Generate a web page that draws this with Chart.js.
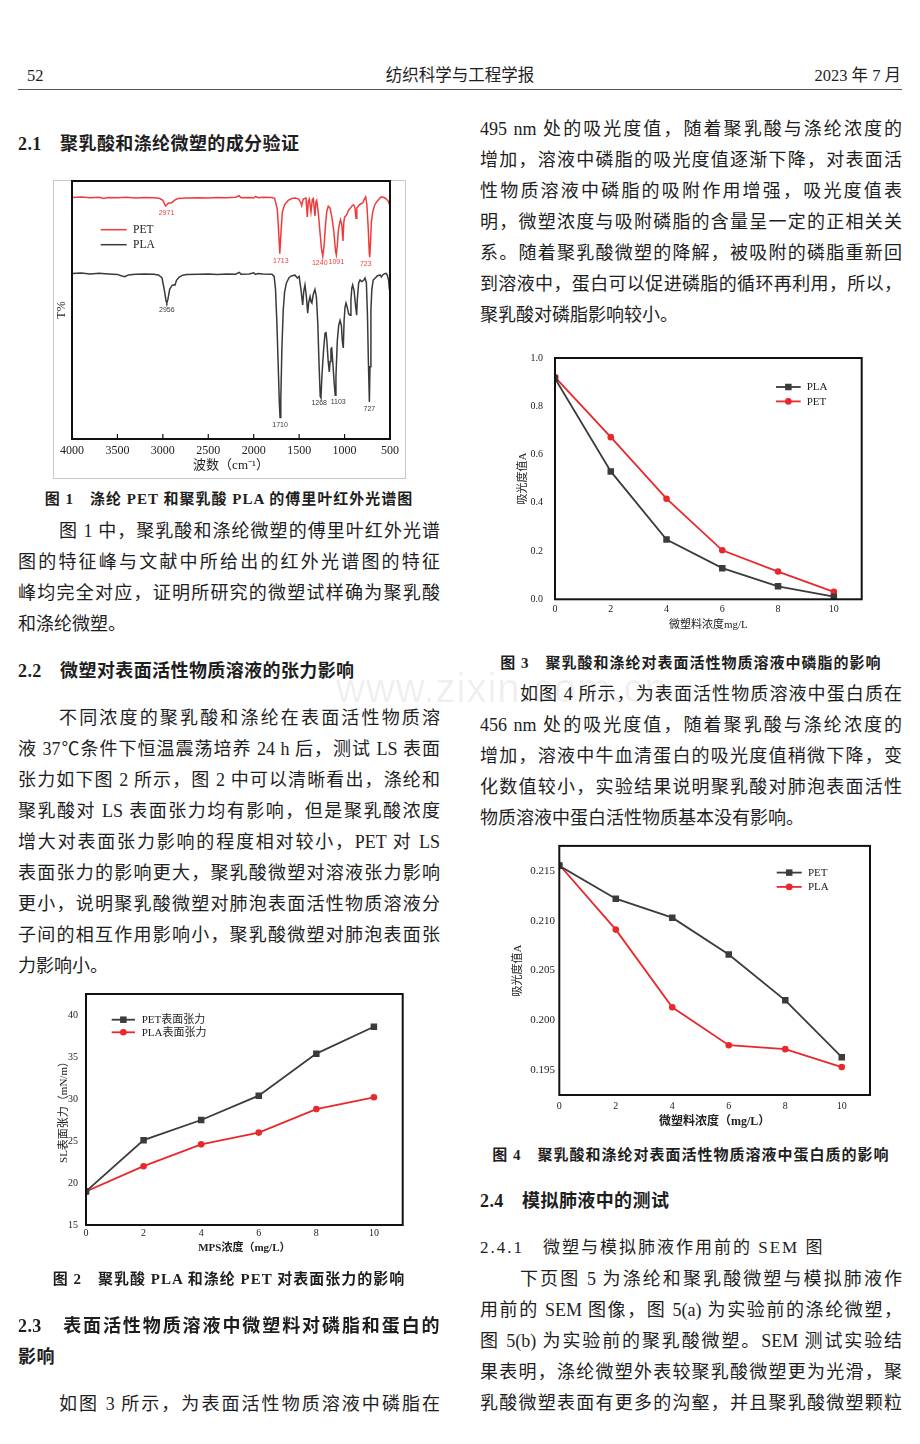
<!DOCTYPE html>
<html lang="zh-CN">
<head>
<meta charset="utf-8">
<title>纺织科学与工程学报 52</title>
<script src="https://cdn.jsdelivr.net/npm/chart.js@4.4.1/dist/chart.umd.min.js"></script>
<style>
body{margin:0;background:#fff;}
#page{position:relative;width:920px;height:1444px;overflow:hidden;font-family:"Liberation Serif","Noto Sans CJK SC",serif;color:#1e1e1e;}
.t{position:absolute;height:24px;line-height:24px;font-size:18px;}
.j{text-align:justify;text-align-last:justify;}
.L{left:18px;width:422px;}
.Li{left:59px;width:381px;}
.R{left:480px;width:422px;}
.Ri{left:520px;width:382px;}
.h{font-weight:bold;font-size:18px;letter-spacing:0.4px;}
.cap{font-weight:bold;font-size:15px;text-align:center;letter-spacing:1px;}
.fig{position:absolute;}
.head{position:absolute;top:64px;height:24px;line-height:24px;font-size:16.5px;}
#wm{position:absolute;left:336px;top:666px;font:40px "Liberation Sans",sans-serif;color:rgba(0,0,0,0.07);letter-spacing:1px;}
</style>
</head>
<body>
<div id="page">
  <div class="head" style="left:27px">52</div>
  <div class="head" style="left:0;width:920px;text-align:center">纺织科学与工程学报</div>
  <div class="head" style="right:19px">2023 年 7 月</div>
  <div style="position:absolute;left:18px;top:89px;width:884px;height:0;border-top:1.5px solid #555"></div>

  <div id="wm">www.zixin.com.cn</div>

  <!-- left column -->
  <div class="t h" style="left:18px;top:132px">2.1　聚乳酸和涤纶微塑的成分验证</div>

  <div class="fig" style="left:53px;top:180px;width:351px;height:297px;border:1px solid #c8c8c8"></div>
  <div class="fig" style="left:53px;top:180px;width:352px;height:298px"><canvas id="ftir"></canvas></div>

  <div class="t cap L" style="top:487px">图 1　涤纶 PET 和聚乳酸 PLA 的傅里叶红外光谱图</div>
  <div class="t j Li" style="top:519px">图 1 中，聚乳酸和涤纶微塑的傅里叶红外光谱</div>
  <div class="t j L" style="top:550px">图的特征峰与文献中所给出的红外光谱图的特征</div>
  <div class="t j L" style="top:581px">峰均完全对应，证明所研究的微塑试样确为聚乳酸</div>
  <div class="t L" style="top:612px">和涤纶微塑。</div>

  <div class="t h" style="left:18px;top:659px">2.2　微塑对表面活性物质溶液的张力影响</div>
  <div class="t j Li" style="top:706px">不同浓度的聚乳酸和涤纶在表面活性物质溶</div>
  <div class="t j L" style="top:737px">液 37℃条件下恒温震荡培养 24 h 后，测试 LS 表面</div>
  <div class="t j L" style="top:768px">张力如下图 2 所示，图 2 中可以清晰看出，涤纶和</div>
  <div class="t j L" style="top:799px">聚乳酸对 LS 表面张力均有影响，但是聚乳酸浓度</div>
  <div class="t j L" style="top:830px">增大对表面张力影响的程度相对较小，PET 对 LS</div>
  <div class="t j L" style="top:861px">表面张力的影响更大，聚乳酸微塑对溶液张力影响</div>
  <div class="t j L" style="top:892px">更小，说明聚乳酸微塑对肺泡表面活性物质溶液分</div>
  <div class="t j L" style="top:923px">子间的相互作用影响小，聚乳酸微塑对肺泡表面张</div>
  <div class="t L" style="top:954px">力影响小。</div>

  <div class="fig" style="left:40px;top:980px;width:380px;height:290px"><canvas id="tension"></canvas></div>

  <div class="t cap L" style="top:1267px">图 2　聚乳酸 PLA 和涤纶 PET 对表面张力的影响</div>
  <div class="t h j L" style="top:1314px">2.3　表面活性物质溶液中微塑料对磷脂和蛋白的</div>
  <div class="t h" style="left:18px;top:1345px">影响</div>
  <div class="t j Li" style="top:1392px">如图 3 所示，为表面活性物质溶液中磷脂在</div>

  <!-- right column -->
  <div class="t j R" style="top:117px">495 nm 处的吸光度值，随着聚乳酸与涤纶浓度的</div>
  <div class="t j R" style="top:148px">增加，溶液中磷脂的吸光度值逐渐下降，对表面活</div>
  <div class="t j R" style="top:179px">性物质溶液中磷脂的吸附作用增强，吸光度值表</div>
  <div class="t j R" style="top:210px">明，微塑浓度与吸附磷脂的含量呈一定的正相关关</div>
  <div class="t j R" style="top:241px">系。随着聚乳酸微塑的降解，被吸附的磷脂重新回</div>
  <div class="t j R" style="top:272px">到溶液中，蛋白可以促进磷脂的循环再利用，所以，</div>
  <div class="t R" style="top:303px">聚乳酸对磷脂影响较小。</div>

  <div class="fig" style="left:480px;top:340px;width:420px;height:300px"><canvas id="phospho"></canvas></div>

  <div class="t cap R" style="top:651px">图 3　聚乳酸和涤纶对表面活性物质溶液中磷脂的影响</div>
  <div class="t j Ri" style="top:682px">如图 4 所示，为表面活性物质溶液中蛋白质在</div>
  <div class="t j R" style="top:713px">456 nm 处的吸光度值，随着聚乳酸与涤纶浓度的</div>
  <div class="t j R" style="top:744px">增加，溶液中牛血清蛋白的吸光度值稍微下降，变</div>
  <div class="t j R" style="top:775px">化数值较小，实验结果说明聚乳酸对肺泡表面活性</div>
  <div class="t R" style="top:806px">物质溶液中蛋白活性物质基本没有影响。</div>

  <div class="fig" style="left:480px;top:835px;width:420px;height:300px"><canvas id="protein"></canvas></div>

  <div class="t cap R" style="top:1143px">图 4　聚乳酸和涤纶对表面活性物质溶液中蛋白质的影响</div>
  <div class="t h" style="left:480px;top:1189px">2.4　模拟肺液中的测试</div>
  <div class="t" style="left:480px;top:1236px;font-size:17px;letter-spacing:2px">2.4.1　微塑与模拟肺液作用前的 SEM 图</div>
  <div class="t j Ri" style="top:1267px">下页图 5 为涤纶和聚乳酸微塑与模拟肺液作</div>
  <div class="t j R" style="top:1298px">用前的 SEM 图像，图 5(a) 为实验前的涤纶微塑，</div>
  <div class="t j R" style="top:1329px">图 5(b) 为实验前的聚乳酸微塑。SEM 测试实验结</div>
  <div class="t j R" style="top:1360px">果表明，涤纶微塑外表较聚乳酸微塑更为光滑，聚</div>
  <div class="t j R" style="top:1391px">乳酸微塑表面有更多的沟壑，并且聚乳酸微塑颗粒</div>
</div>

<script>
// ---- Fig 1: FTIR spectra (wavenumber, transmittance in arbitrary units) ----
const petWave = [4000,3900,3800,3700,3650,3600,3500,3400,3300,3200,3100,3040,3000,2971,2940,2903,2870,2830,2750,2600,2500,2400,2300,2200,2160,2140,2050,2000,1980,1950,1900,1800,1770,1740,1725,1713,1700,1685,1660,1620,1580,1540,1505,1480,1472,1455,1425,1410,1400,1388,1370,1355,1344,1326,1315,1307,1290,1270,1255,1240,1225,1210,1195,1179,1160,1140,1120,1100,1091,1080,1068,1058,1045,1030,1018,1008,1000,985,970,955,935,915,900,885,874,865,850,830,800,785,768,755,740,728,723,716,705,690,670,650,620,600,570,545,520,505,500];
const petT    = [93.6,93.8,93.5,93.7,93.2,93.6,93.5,93.7,93.4,93.6,93.5,93.3,92.5,90.3,91.4,91.6,92.6,93.2,93.4,93.5,93.4,93.6,93.5,93.7,94.3,93.5,93.6,93.4,94.0,93.5,93.7,93.6,93.3,89,80,71.8,80,88,90.8,92.5,93.2,93.4,93.0,91.5,90.5,93.0,93.4,86.1,92.0,93.0,88,92.8,93.2,86.5,92.0,92.5,88,80,74,70.8,75,83,88.5,90.2,89.5,86,81,73,71.4,75,81,83,85,83,76.8,84,86,86.5,87.5,88.8,89.5,90.5,90.8,89.5,85.6,89.5,90.2,91.0,91.5,92.8,93.8,91,82,72,70.5,75,84,88,90.5,91.8,93.0,93.8,93.7,93.2,92.2,90.8,89.5];

const plaWave = [4000,3900,3800,3700,3600,3500,3450,3417,3380,3300,3200,3100,3050,3010,2985,2965,2956,2945,2925,2900,2880,2866,2850,2820,2780,2738,2600,2500,2400,2300,2200,2160,2140,2050,2000,1980,1950,1900,1800,1775,1760,1745,1730,1718,1710,1702,1690,1675,1660,1640,1610,1580,1545,1520,1500,1480,1461,1450,1436,1420,1406,1395,1380,1368,1360,1345,1326,1310,1295,1280,1268,1260,1250,1230,1215,1205,1195,1180,1168,1160,1150,1142,1130,1115,1103,1095,1080,1065,1050,1035,1025,1014,1005,995,984,970,955,940,930,920,911,895,880,867,860,845,830,810,790,775,760,748,738,727,720,710,700,685,660,640,610,595,580,560,544,530,515,508,500];
const plaT    = [64.1,64.3,64.0,64.2,64.0,63.8,63.2,62.9,63.6,63.9,64.0,63.9,63.6,62.5,58,53.5,52.8,54,58,59.5,59.8,59.7,61.5,62.8,63.5,63.8,63.9,64.0,63.8,64.0,63.9,64.6,63.9,64.0,64.4,63.8,64.1,64.0,63.9,63.0,58,45,28,14,8.3,15,35,50,57,60.5,62.6,63.3,63.5,62.4,63.0,58,52,57,59.7,55,48.8,53,55.2,53,52.7,56,58,55,45,28,16.5,15.9,24,35,41,41.5,38,30,26,30,35,35.3,30,22,17,24,38,44,46,44,38,35.3,46,51,52.7,51,48.5,48,54,58.5,59.7,57.5,52,48,54,60.5,61.6,61,61.5,62.4,60.5,48,30,14.3,28,50,58,61.6,62.5,63.2,63.6,62.8,63.6,64.1,64.2,63.5,61.5,58.5,57];

const ftirTicks = [4000,3500,3000,2500,2000,1500,1000,500];
const petPeaks = [2971,1713,1240,1091,723];
const plaPeaks = [2956,1710,1268,1103,727];

// ---- Fig 2: surface tension ----
const mpsConc = [0,2,4,6,8,10];
const petTension = [19.0,25.1,27.5,30.4,35.4,38.6];
const plaTension = [19.0,22.0,24.6,26.0,28.8,30.2];
const tensionTicks = [15,20,25,30,35,40];

// ---- Fig 3: phospholipid absorbance ----
const mpConc = [0,2,4,6,8,10];
const plaPhospho = [0.915,0.530,0.248,0.129,0.054,0.011];
const petPhospho = [0.921,0.672,0.417,0.203,0.115,0.031];
const phosphoTicks = [0,0.2,0.4,0.6,0.8,1.0];

// ---- Fig 4: protein absorbance ----
const petProtein = [0.2155,0.2122,0.2103,0.2066,0.2020,0.1963];
const plaProtein = [0.2156,0.2091,0.2013,0.1975,0.1971,0.1953];
const proteinTicks = [0.195,0.200,0.205,0.210,0.215];

const concTicks = [0,2,4,6,8,10];

const serif = '"Liberation Serif", "Noto Sans CJK SC", serif';
const RED = '#e8282d';
const DARK = '#3b3b3b';

// box round the plot area (+ optional inner ticks on x)
const frameBox = {
  id: 'frameBox',
  afterDatasetsDraw(chart, args, o) {
    const { ctx, chartArea: a } = chart;
    ctx.save();
    ctx.strokeStyle = '#111';
    ctx.lineWidth = o.width || 2;
    ctx.strokeRect(a.left, a.top, a.right - a.left, a.bottom - a.top);
    if (o.innerTicks) {
      ctx.lineWidth = 1.2;
      chart.scales.x.ticks.forEach(t => {
        const x = chart.scales.x.getPixelForValue(t.value);
        ctx.beginPath();
        ctx.moveTo(x, a.bottom);
        ctx.lineTo(x, a.bottom - o.innerTicks);
        ctx.stroke();
      });
    }
    ctx.restore();
  }
};

// legend drawn inside the plot area
const boxLegend = {
  id: 'boxLegend',
  afterDatasetsDraw(chart, args, o) {
    if (!o || o.x === undefined) return;
    const { ctx, chartArea: a } = chart;
    ctx.save();
    ctx.font = o.font;
    ctx.textBaseline = 'middle';
    chart.data.datasets.forEach((ds, i) => {
      const y = a.top + o.y + i * o.gap;
      const x0 = a.left + o.x, x1 = x0 + o.len;
      ctx.strokeStyle = ds.borderColor;
      ctx.lineWidth = ds.borderWidth;
      ctx.beginPath();
      ctx.moveTo(x0, y);
      ctx.lineTo(x1, y);
      ctx.stroke();
      if (ds.pointRadius) {
        const mx = (x0 + x1) / 2;
        ctx.fillStyle = ds.borderColor;
        ctx.beginPath();
        if (ds.pointStyle === 'rect') {
          const s = Math.SQRT1_2 * ds.pointRadius;
          ctx.rect(mx - s, y - s, 2 * s, 2 * s);
        } else {
          ctx.arc(mx, y, ds.pointRadius, 0, Math.PI * 2);
        }
        ctx.fill();
      }
      ctx.fillStyle = '#222';
      ctx.fillText(ds.label, x1 + o.textGap, y + 0.5);
    });
    ctx.restore();
  }
};

// wavenumber labels under the FTIR peaks
const peakLabels = {
  id: 'peakLabels',
  afterDatasetsDraw(chart, args, o) {
    if (!o || !o.sets) return;
    const { ctx } = chart;
    const xs = chart.scales.x, ys = chart.scales.y;
    ctx.save();
    ctx.font = o.font;
    ctx.textAlign = 'center';
    ctx.textBaseline = 'middle';
    o.sets.forEach(s => {
      const ds = chart.data.datasets[s.dataset];
      ctx.fillStyle = ds.borderColor;
      s.peaks.forEach((w, k) => {
        const pt = ds.data.find(p => p.x === w);
        ctx.fillText(String(w), xs.getPixelForValue(w) + (s.dx[k] || 0), ys.getPixelForValue(pt.y) + o.dy);
      });
    });
    ctx.restore();
  }
};

function fixedTicks(values) {
  return scale => { scale.ticks = values.map(v => ({ value: v })); };
}

function axis(o) {
  return {
    type: 'linear',
    min: o.min,
    max: o.max,
    reverse: !!o.reverse,
    afterBuildTicks: fixedTicks(o.ticks),
    afterFit: s => { if (s.isHorizontal()) s.height = o.size; else s.width = o.size; },
    grid: { display: false, drawTicks: false },
    border: { display: false },
    ticks: {
      display: o.showTicks !== false,
      padding: o.pad || 0,
      color: '#222',
      font: { family: serif, size: o.fontSize || 10 },
      callback: o.fmt || (v => v)
    },
    title: {
      display: true,
      text: o.title,
      color: '#222',
      font: { family: serif, size: o.titleSize || 11, weight: o.titleWeight || 'normal' },
      padding: o.titlePad
    }
  };
}

function series(label, xs, ys, color, shape, width) {
  return {
    label,
    data: xs.map((x, i) => ({ x, y: ys[i] })),
    borderColor: color,
    backgroundColor: color,
    borderWidth: width || 1.8,
    pointStyle: shape || 'circle',
    pointRadius: shape === 'rect' ? 4.6 : (shape ? 3.3 : 0),
    pointBorderWidth: 0,
    tension: 0
  };
}

function makeChart(id, datasets, x, y, pad, extra) {
  return new Chart(document.getElementById(id), {
    type: 'line',
    data: { datasets },
    options: {
      responsive: true,
      maintainAspectRatio: false,
      animation: false,
      layout: { padding: pad },
      scales: { x, y },
      plugins: Object.assign({ legend: { display: false }, tooltip: { enabled: false } }, extra)
    },
    plugins: [frameBox, boxLegend, peakLabels]
  });
}

// Fig 1
makeChart('ftir',
  [series('PET', petWave, petT, '#f03b3d', null, 1.5),
   series('PLA', plaWave, plaT, '#3a3a3a', null, 1.5)],
  axis({ min: 500, max: 4000, reverse: true, ticks: ftirTicks, size: 39, pad: 4.8, fontSize: 12,
         title: '波数（cm⁻¹）', titleSize: 13, titlePad: { bottom: 5 } }),
  axis({ min: 0, max: 100, ticks: [], size: 19, showTicks: false,
         title: 'T%', titleSize: 12, titlePad: { top: 1.8 } }),
  { top: 1, right: 15, left: 0, bottom: 0 },
  {
    frameBox: { width: 2, innerTicks: 5 },
    boxLegend: { x: 28.7, y: 48.7, gap: 15, len: 26, textGap: 6.3, font: '11.5px ' + serif },
    peakLabels: {
      font: '7px "Liberation Sans", sans-serif', dy: 7,
      sets: [{ dataset: 0, peaks: petPeaks, dx: [1, 1, -3, 0, -4] },
             { dataset: 1, peaks: plaPeaks, dx: [0, 0, -1, 3, 0] }]
    }
  });

// Fig 2
makeChart('tension',
  [series('PET表面张力', mpsConc, petTension, DARK, 'rect'),
   series('PLA表面张力', mpsConc, plaTension, RED, 'circle')],
  axis({ min: 0, max: 11, ticks: concTicks, size: 45, pad: 2, fontSize: 10,
         title: 'MPS浓度（mg/L）', titleWeight: 'bold', titlePad: { bottom: 15.4 } }),
  axis({ min: 15, max: 42.5, ticks: tensionTicks, size: 46, pad: 8, fontSize: 10,
         title: 'SL表面张力（mN/m）', titlePad: { top: 17.4 } }),
  { top: 10, right: 17.3, left: 0, bottom: 0 },
  { frameBox: { width: 2 },
    boxLegend: { x: 25.7, y: 25.7, gap: 12.6, len: 23.3, textGap: 6.7, font: '11px ' + serif } });

// Fig 3
makeChart('phospho',
  [series('PLA', mpConc, plaPhospho, DARK, 'rect'),
   series('PET', mpConc, petPhospho, RED, 'circle')],
  axis({ min: 0, max: 11, ticks: concTicks, size: 40.7, pad: 3.7, fontSize: 10,
         title: '微塑料浓度mg/L', titlePad: { bottom: 8.4 } }),
  axis({ min: 0, max: 1, ticks: phosphoTicks, size: 75, pad: 12, fontSize: 10,
         fmt: v => v.toFixed(1), title: '吸光度值A', titlePad: { top: 36.4 } }),
  { top: 13.3, right: 38.3, left: 0, bottom: 0 },
  { frameBox: { width: 2 },
    boxLegend: { x: 221, y: 29, gap: 14.4, len: 24.7, textGap: 6, font: '11px ' + serif } });

// Fig 4
makeChart('protein',
  [series('PET', mpConc, petProtein, DARK, 'rect'),
   series('PLA', mpConc, plaProtein, RED, 'circle')],
  axis({ min: 0, max: 11, ticks: concTicks, size: 40, pad: 5.7, fontSize: 10,
         title: '微塑料浓度（mg/L）', titleSize: 12, titleWeight: 'bold', titlePad: { bottom: 6.1 } }),
  axis({ min: 0.1925, max: 0.2175, ticks: proteinTicks, size: 79.3, pad: 4.3, fontSize: 11,
         fmt: v => v.toFixed(3), title: '吸光度值A', titlePad: { top: 31.4 } }),
  { top: 9, right: 30, left: 0, bottom: 0 },
  { frameBox: { width: 2 },
    boxLegend: { x: 217.4, y: 26.7, gap: 14.3, len: 25, textGap: 6.3, font: '11px ' + serif } });
</script>
</body>
</html>
